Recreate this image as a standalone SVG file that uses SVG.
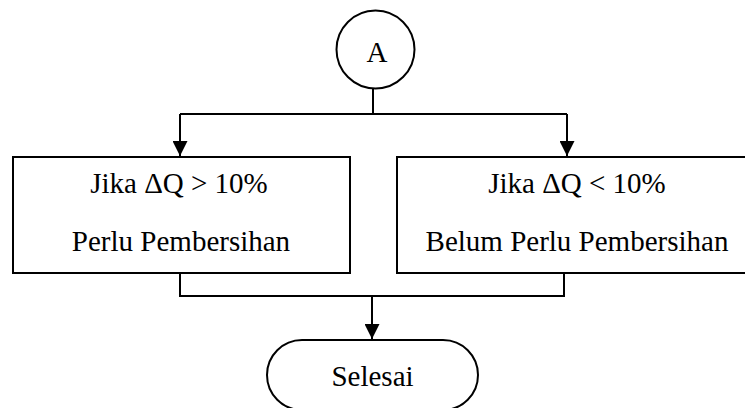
<svg xmlns="http://www.w3.org/2000/svg" width="745" height="408" viewBox="0 0 745 408" font-family="Liberation Serif, serif">
<style>
.s{fill:#fff;stroke:#000;stroke-width:2}
.l{fill:none;stroke:#000;stroke-width:2}
text,.t{font-family:'Liberation Serif',serif !important;font-size:29px;fill:#000;text-anchor:middle}
</style>
<defs>
<marker id="ah" markerUnits="userSpaceOnUse" markerWidth="16" markerHeight="15" refX="15" refY="7.5" orient="auto">
<path d="M0,0 L15,7.5 L0,15 Z" fill="#000"/>
</marker>
</defs>
<rect width="745" height="408" fill="#fff"/>
<g id="connectors">
<path class="l" d="M373,89 V114"/>
<path class="l" d="M180,114 H567"/>
<path class="l" d="M180,114 V156" marker-end="url(#ah)"/>
<path class="l" d="M567,114 V156" marker-end="url(#ah)"/>
<path class="l" d="M180,273 V296 H564 V273"/>
<path class="l" d="M372,296 V339" marker-end="url(#ah)"/>
</g>
<g id="nodeA">
<circle class="s" cx="375.5" cy="49.5" r="39"/>
<text class="t" x="377" y="62" font-family="Liberation Serif" font-size="29" text-anchor="middle">A</text>
</g>
<g id="box1">
<rect class="s" x="13" y="157" width="337" height="116"/>
<text class="t" x="179" y="193" font-family="Liberation Serif" font-size="29" text-anchor="middle">Jika ΔQ &gt; 10%</text>
<text class="t" x="181" y="251" font-family="Liberation Serif" font-size="29" text-anchor="middle">Perlu Pembersihan</text>
</g>
<g id="box2">
<rect class="s" x="397" y="157" width="360" height="116"/>
<text class="t" x="577" y="193" font-family="Liberation Serif" font-size="29" text-anchor="middle">Jika ΔQ &lt; 10%</text>
<text class="t" x="577" y="251" font-family="Liberation Serif" font-size="29" text-anchor="middle">Belum Perlu Pembersihan</text>
</g>
<g id="end">
<rect class="s" x="267" y="340" width="211" height="70" rx="35" ry="35"/>
<text class="t" x="372.5" y="386" font-family="Liberation Serif" font-size="29" text-anchor="middle">Selesai</text>
</g>
</svg>
